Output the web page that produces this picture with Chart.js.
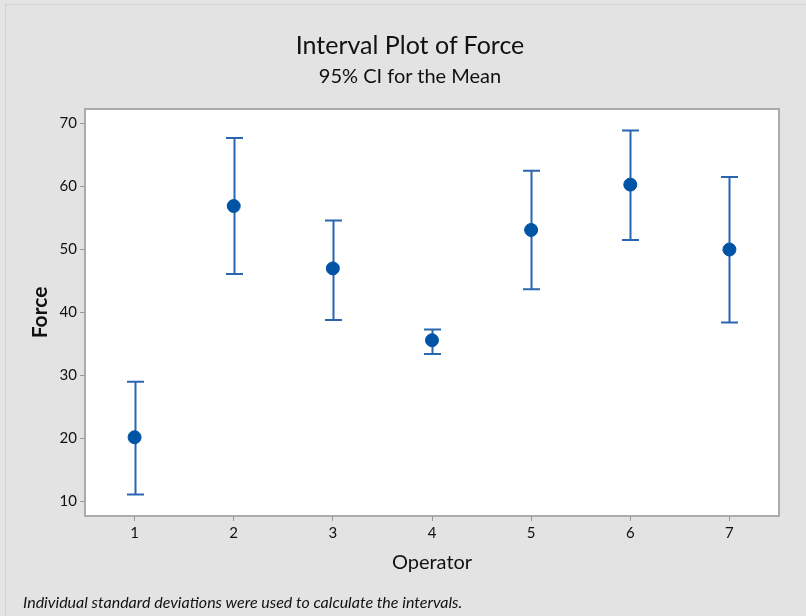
<!DOCTYPE html>
<html>
<head>
<meta charset="utf-8">
<script src="https://cdn.jsdelivr.net/npm/chart.js@4.4.1/dist/chart.umd.min.js"></script>
<style>
    html, body { margin: 0; padding: 0; background: #e3e3e3; }
    #wrap { position: relative; width: 806px; height: 616px; font-family: Lato, "Open Sans", sans-serif; color: #111; }
    #frame { position: absolute; left: 5px; top: 4px; right: 0; bottom: 0; border-left: 1px solid #d2d2d2; border-top: 1px solid #d2d2d2; }
    .head { position: absolute; left: 0; width: 820px; text-align: center; white-space: nowrap; }
    #title { top: 28px; font-size: 25px; line-height: 32px; }
    #subtitle { top: 62px; font-size: 20px; line-height: 26px; }
    #note { position: absolute; left: 23px; top: 592px; font-style: italic; font-size: 16px; }
    canvas { position: absolute; left: 0; top: 0; }
</style>
</head>
<body>
<div id="wrap">
    <div id="frame"></div>
    <canvas id="chart" width="806" height="616"></canvas>
    <div class="head" id="title">Interval Plot of Force</div>
    <div class="head" id="subtitle">95% CI for the Mean</div>
    <div id="note">Individual standard deviations were used to calculate the intervals.</div>
</div>
<script>
// Minitab interval plot: mean + 95% CI per operator
const operators = [1, 2, 3, 4, 5, 6, 7];
const means = [20.2, 56.9, 47.0, 35.6, 53.1, 60.3, 50.0];
const upperCI = [29.0, 67.7, 54.6, 37.3, 62.5, 68.9, 61.5];
const lowerCI = [11.1, 46.1, 38.8, 33.4, 43.7, 51.5, 38.4];
const yTicks = [10, 20, 30, 40, 50, 60, 70];

const blue = '#0054a6';
const barBlue = '#2a65b0';

// white plot area + grey frame behind everything
const plotBox = {
    id: 'plotBox',
    beforeDraw(chart) {
        const a = chart.chartArea, ctx = chart.ctx;
        ctx.save();
        ctx.fillStyle = '#ffffff';
        ctx.fillRect(a.left, a.top, a.right - a.left, a.bottom - a.top);
        ctx.strokeStyle = '#ababab';
        ctx.lineWidth = 2;
        ctx.strokeRect(a.left, a.top, a.right - a.left, a.bottom - a.top);
        ctx.restore();
    }
};

// whiskers, drawn through the chart's own scales
const errorBars = {
    id: 'errorBars',
    beforeDatasetsDraw(chart) {
        const x = chart.scales.x, y = chart.scales.y, ctx = chart.ctx;
        ctx.save();
        ctx.strokeStyle = barBlue;
        ctx.lineWidth = 2;
        operators.forEach((op, i) => {
            let px = Math.round(x.getPixelForValue(op)) + 0.5;
            let top = y.getPixelForValue(upperCI[i]);
            let bot = y.getPixelForValue(lowerCI[i]);
            ctx.beginPath();
            ctx.moveTo(px, top); ctx.lineTo(px, bot);
            ctx.moveTo(px - 8.5, top); ctx.lineTo(px + 8.5, top);
            ctx.moveTo(px - 8.5, bot); ctx.lineTo(px + 8.5, bot);
            ctx.stroke();
        });
        ctx.restore();
    }
};

const font = 'Lato, "Open Sans", sans-serif';

new Chart(document.getElementById('chart'), {
    type: 'scatter',
    data: {
        datasets: [{
            label: 'Mean',
            data: operators.map((op, i) => ({ x: op, y: means[i] })),
            backgroundColor: blue,
            borderColor: blue,
            pointRadius: 6.5,
            pointHoverRadius: 6.5,
            showLine: false
        }]
    },
    options: {
        responsive: false,
        animation: false,
        layout: { padding: { left: 0, right: 27, top: 109, bottom: 37 } },
        plugins: {
            legend: { display: false },
            tooltip: { enabled: false }
        },
        scales: {
            x: {
                type: 'linear',
                min: 0.5,
                max: 7.5,
                afterBuildTicks: s => { s.ticks = operators.map(v => ({ value: v })); },
                grid: { drawOnChartArea: false, drawTicks: true, tickLength: 5, color: '#9a9a9a' },
                border: { display: false },
                ticks: { color: '#111', font: { family: font, size: 15 }, padding: 3 },
                title: { display: true, text: 'Operator', color: '#111', font: { family: font, size: 20 }, padding: { top: 6 } }
            },
            y: {
                min: 7.7,
                max: 72.3,
                afterBuildTicks: s => { s.ticks = yTicks.map(v => ({ value: v })); },
                afterFit: s => { s.width = 85; },
                grid: { drawOnChartArea: false, drawTicks: true, tickLength: 5, color: '#9a9a9a' },
                border: { display: false },
                ticks: { color: '#111', font: { family: font, size: 15 }, padding: 3 },
                title: { display: true, text: 'Force', color: '#111', font: { family: font, size: 21, weight: 'bold' }, padding: { top: 28, bottom: 4 } }
            }
        }
    },
    plugins: [plotBox, errorBars]
});
</script>
</body>
</html>
